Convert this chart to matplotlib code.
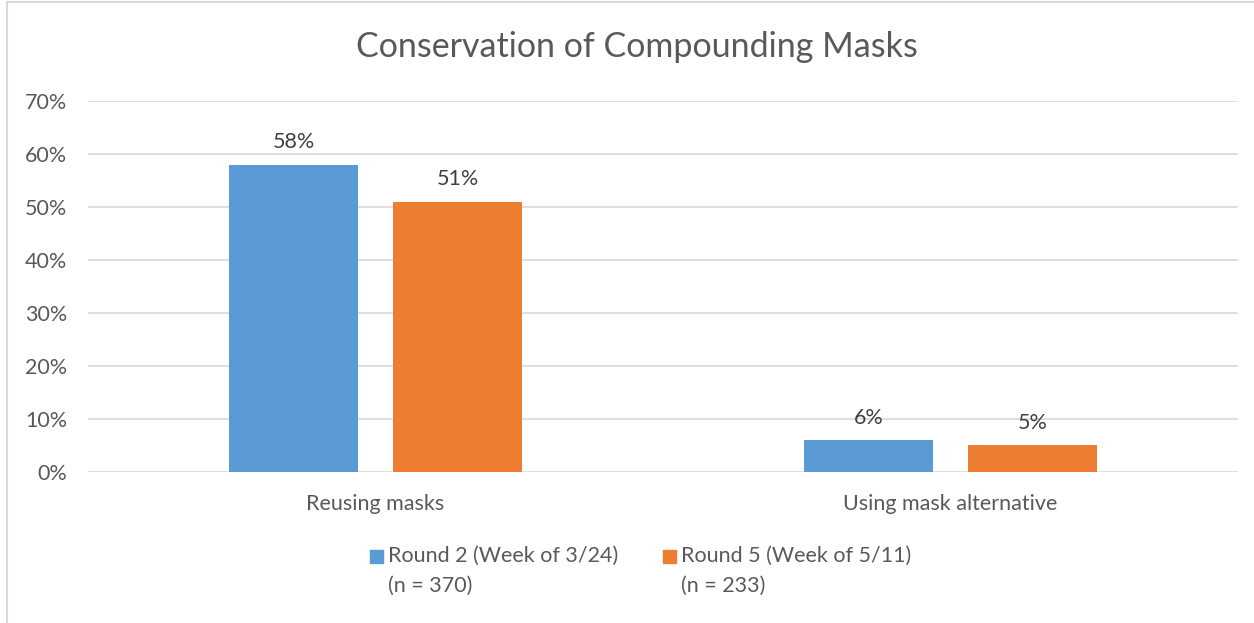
import matplotlib.pyplot as plt
from matplotlib.patches import Rectangle
from matplotlib.lines import Line2D

categories = ['Reusing masks', 'Using mask alternative']
round2 = [58, 6]
round5 = [51, 5]
series_labels = ['Round 2 (Week of 3/24)\n(n = 370)', 'Round 5 (Week of 5/11)\n(n = 233)']
colors = ['#5b9bd5', '#ed7d31']
yticks = [0, 10, 20, 30, 40, 50, 60, 70]

plt.rcParams['font.family'] = ['Lato', 'DejaVu Sans']
TXT = '#595959'
W, H = 1254, 623

fig = plt.figure(figsize=(12.54, 6.23), dpi=100)
ax = fig.add_axes([0.0702, 0.2424, 0.917, 0.5955])

x = list(range(len(categories)))
w = 0.224
off = 0.1426
b1 = ax.bar([i - off for i in x], round2, w, color=colors[0], zorder=3)
b2 = ax.bar([i + off for i in x], round5, w, color=colors[1], zorder=3)

for bars, vals in ((b1, round2), (b2, round5)):
    for r, v in zip(bars, vals):
        ax.text(r.get_x() + r.get_width() / 2, v + 2.3, f'{v}%', ha='center', va='bottom',
                fontsize=15.5, color='#404040')

ax.set_xlim(-0.5, 1.5)
ax.set_ylim(0, 70)
ax.set_yticks(yticks)
ax.set_yticklabels([f'{t}%' for t in yticks])
ax.set_xticks(x)
ax.set_xticklabels(categories)
ax.tick_params(axis='both', length=0, labelsize=15.5, colors=TXT)
ax.tick_params(axis='y', pad=15)
ax.tick_params(axis='x', pad=16)
ax.yaxis.grid(True, color='#d9d9d9', linewidth=1.2, zorder=0)
for s in ax.spines.values():
    s.set_visible(False)

fig.text(0.508, 0.925, 'Conservation of Compounding Masks', ha='center', va='center',
         fontsize=24.5, color=TXT)

# legend, drawn by hand so the swatch sits on the first text line
leg_x = [370, 663]
for lx, lab, c in zip(leg_x, series_labels, colors):
    fig.add_artist(Rectangle((lx / W, 1 - 563 / H), 13 / W, 13 / H, color=c,
                             transform=fig.transFigure))
    fig.text((lx + 18) / W, 1 - 546 / H, lab, ha='left', va='top', fontsize=15.5,
             color=TXT, linespacing=1.6)

# outer chart frame (left and top edges)
fig.add_artist(Line2D([0.0056, 0.0056], [0, 0.997], color='#d9d9d9', linewidth=1.5))
fig.add_artist(Line2D([0.0056, 1], [0.997, 0.997], color='#d9d9d9', linewidth=1.5))

fig.savefig('out.png', dpi=100)
